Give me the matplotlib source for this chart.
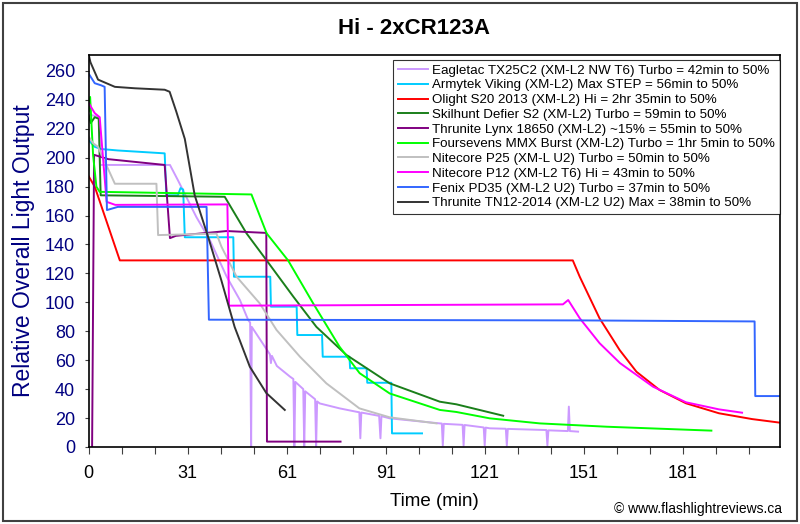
import matplotlib
matplotlib.use("Agg")
import matplotlib.pyplot as plt
from matplotlib.patches import Rectangle

plt.rcParams['font.family'] = ['Liberation Sans', 'DejaVu Sans']

# time in minutes, relative output
eagle_t = [0, 3.2, 3.4, 24.6, 27, 32.6, 36.7, 41.8, 45.8, 48.3, 48.9, 49.2, 49.4, 53.9, 54.9, 55.2, 55.5,
           57.0, 61.0, 62.0, 62.3, 62.6, 65.0, 65.3, 65.6, 68.6, 68.9, 69.2, 70.0, 76.0, 81.0, 82.0, 82.3,
           82.6, 88.0, 88.4, 88.7, 91.2, 106.4, 107.0, 107.3, 107.6, 113.3, 113.6, 113.9, 119.7, 120.0,
           120.3, 121.5, 126.4, 126.7, 127.0, 138.7, 139.0, 139.3, 145.2, 145.5, 145.8, 148.3]
eagle_v = [230, 228, 195, 195, 184.5, 159, 143, 117.7, 101.6, 87.8, 86, 0, 83, 67.5, 64, 58, 63,
           56, 48.6, 47, 0, 45, 40, 0, 38.5, 33, 0, 31.5, 30.1, 26.7, 24.4, 24, 6,
           23.8, 21.5, 6, 21.3, 19.8, 16.3, 16.2, 1, 16, 15.3, 1, 15.2, 13.5, 1,
           13.4, 12.9, 12.6, 1, 12.5, 11.7, 1, 11.5, 11, 27.9, 11, 10.6]

army_t = [0, 1.8, 3.8, 8.8, 23.0, 23.5, 27.0, 27.8, 28.6, 29.1, 43.8, 44.0, 55.0, 55.2, 63.0, 63.2,
          70.7, 70.9, 79.0, 79.2, 84.2, 84.4, 91.7, 91.9, 101.0]
army_v = [212, 207.5, 206, 205, 203, 174, 174, 179, 178, 145, 145, 117.7, 117.7, 97, 97, 77.4,
          77.4, 62.4, 62.4, 54.4, 54.4, 44.4, 44.4, 9.4, 9.4]

olight_t = [0, 1.8, 9.4, 146.7, 148.8, 154.8, 160.9, 166.0, 173.0, 181.0, 191.0, 201.0, 209.5]
olight_v = [187, 180, 129, 129, 117.7, 89, 67, 52, 39.4, 30.2, 23.3, 19.3, 16.8]

skil_t = [0, 0.6, 1.8, 3.0, 3.6, 41.2, 47.8, 53.9, 62.0, 69.0, 78.1, 91.2, 106.4, 111.4, 125.6]
skil_v = [229, 224, 228, 227, 174, 173, 147.7, 129, 103.9, 83, 63.6, 44, 31.3, 29.5, 21.6]

lynx_t = [1.0, 1.1, 1.6, 5.9, 23.0, 24.6, 26.4, 41.8, 53.8, 54.0, 76.3]
lynx_v = [0, 33, 202, 199, 195, 144.4, 146, 149.3, 148, 3.7, 3.7]

mmx_t = [0, 0.4, 1.3, 2.3, 3.3, 49.3, 53.9, 60.4, 68.0, 76.0, 82.1, 91.2, 106.4, 111.4, 121.5, 136.7, 157.0, 188.7]
mmx_v = [232, 242, 201.8, 180, 176.4, 174.6, 147.7, 129, 99.3, 69.3, 51, 37, 25.6, 24.2, 19.8, 16.3, 14, 11.3]

p25_t = [0, 1.3, 2.8, 7.9, 20.5, 21.0, 38.7, 40.2, 44.8, 51.8, 56.9, 64.0, 72.0, 82.0, 91.2, 105.4]
p25_v = [214.5, 210, 207.5, 182, 182, 146.5, 147.5, 138.5, 117.7, 99.3, 80.9, 62.4, 44, 26.7, 20.5, 16.3]

p12_t = [0, 1.8, 3.3, 5.4, 8.0, 42.0, 42.5, 143.7, 145.3, 148.8, 154.8, 161.0, 171.0, 181.0, 191.0, 198.0]
p12_v = [237.7, 230.8, 228, 169.5, 167.4, 167.7, 97.7, 98.6, 101.6, 89, 71.8, 58, 41.7, 30.9, 26, 23.7]

pd35_t = [0, 1.8, 3.8, 4.8, 5.5, 8.8, 35.7, 36.4, 150.0, 201.8, 202.0, 209.5]
pd35_v = [258, 251.5, 250, 249, 163.8, 166, 166, 88, 87.5, 86.8, 35.2, 35.2]

tn12_t = [0, 0.5, 2.8, 7.9, 14, 23, 24.5, 26.5, 29.1, 32.1, 36.2, 40.2, 44.2, 48.8, 53.8, 59.4]
tn12_v = [271, 266, 254, 249, 248, 247, 245.6, 232, 213, 174, 145, 115, 83, 55.5, 37.3, 25.6]

series = [
    ("Eagletac TX25C2 (XM-L2 NW T6) Turbo = 42min to 50%", eagle_t, eagle_v, "#CC99FF"),
    ("Armytek Viking (XM-L2) Max STEP = 56min to 50%", army_t, army_v, "#00CCFF"),
    ("Olight S20 2013 (XM-L2) Hi = 2hr 35min to 50%", olight_t, olight_v, "#FF0000"),
    ("Skilhunt Defier S2 (XM-L2) Turbo = 59min to 50%", skil_t, skil_v, "#1A7F1A"),
    ("Thrunite Lynx 18650 (XM-L2) ~15% = 55min to 50%", lynx_t, lynx_v, "#800080"),
    ("Foursevens MMX Burst (XM-L2) Turbo = 1hr 5min to 50%", mmx_t, mmx_v, "#00FF00"),
    ("Nitecore P25 (XM-L U2) Turbo = 50min to 50%", p25_t, p25_v, "#C0C0C0"),
    ("Nitecore P12 (XM-L2 T6) Hi = 43min to 50%", p12_t, p12_v, "#FF00FF"),
    ("Fenix PD35 (XM-L2 U2) Turbo = 37min to 50%", pd35_t, pd35_v, "#3366FF"),
    ("Thrunite TN12-2014 (XM-L2 U2) Max = 38min to 50%", tn12_t, tn12_v, "#333333"),
]

xtick_labels = ["0", "31", "61", "91", "121", "151", "181"]

fig = plt.figure(figsize=(8, 5.24), dpi=100)
ax = fig.add_axes([0.111, 0.147, 0.864, 0.748])

for name, t, v, c in series:
    ax.plot(t, v, color=c, lw=1.4, label=name)

ax.set_xlim(0, 209.5)
ax.set_ylim(0, 271)
ax.set_xticks(range(0, 201, 10))
ax.set_xticklabels([xtick_labels[i // 3] if i % 3 == 0 else "" for i in range(21)])
ax.set_yticks(range(0, 261, 20))
ax.tick_params(axis='x', direction='out', length=5, color='#404040', labelsize=13, pad=8)
ax.tick_params(axis='y', direction='out', length=3, color='#404040', labelsize=13,
               labelcolor='#000080', pad=7)
for s in ax.spines.values():
    s.set_color('black')
    s.set_linewidth(1.2)

ax.set_xlabel("Time (min)", fontsize=13.5, labelpad=8)
ax.set_ylabel("Relative Overall Light Output", fontsize=16.5, color='#000080', labelpad=7)
fig.text(0.518, 0.945, "Hi - 2xCR123A", ha='center', va='center', fontsize=16, fontweight='bold')
fig.text(0.977, 0.028, "© www.flashlightreviews.ca", ha='right', va='center', fontsize=10)

leg = ax.legend(loc='upper left', bbox_to_anchor=(0.44, 0.988), fontsize=9.6, frameon=True,
                fancybox=False, edgecolor='black', handlelength=2.3, handletextpad=0.3,
                labelspacing=0.18, borderpad=0.35, borderaxespad=0)
leg.get_frame().set_linewidth(0.8)

fig.patches.append(Rectangle((0.004, 0.006), 0.992, 0.988, transform=fig.transFigure,
                             fill=False, ec='#404040', lw=1.5))

fig.savefig("out.png", dpi=100)
